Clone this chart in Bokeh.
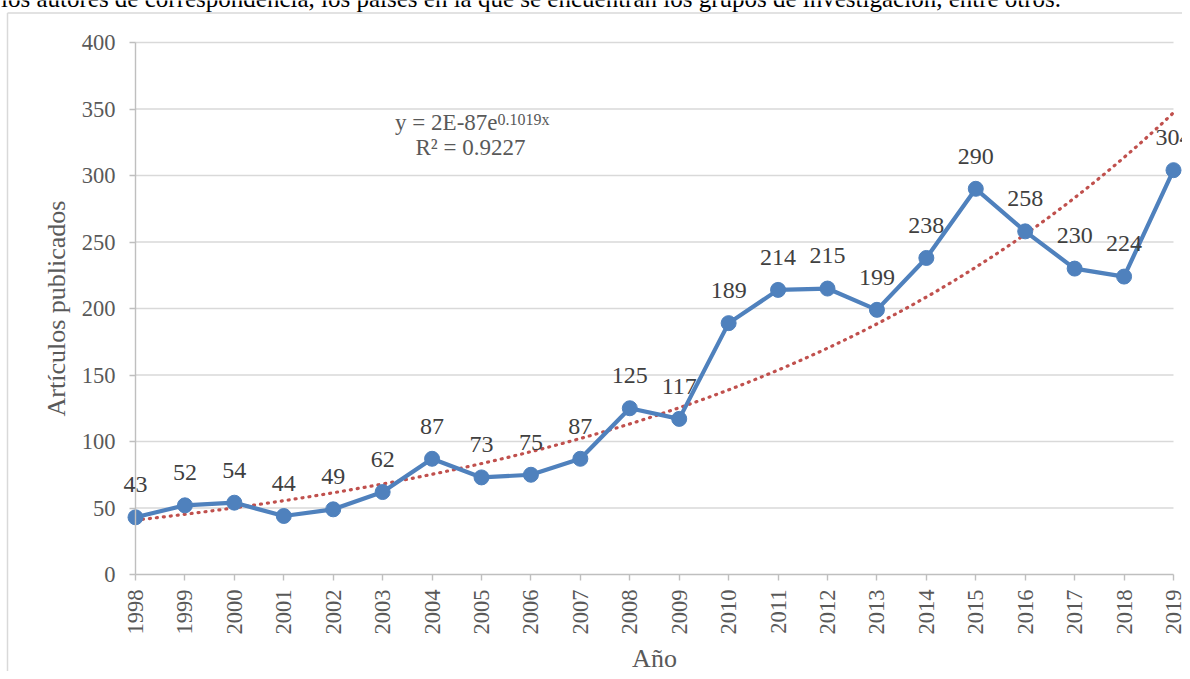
import numpy as np
from bokeh.plotting import figure
from bokeh.models import ColumnDataSource, Label, FixedTicker, Range1d
from bokeh.embed import file_html
from bokeh.resources import INLINE

# ---- data ----
years = [1998, 1999, 2000, 2001, 2002, 2003, 2004, 2005, 2006, 2007, 2008,
         2009, 2010, 2011, 2012, 2013, 2014, 2015, 2016, 2017, 2018, 2019]
articles = [43, 52, 54, 44, 49, 62, 87, 73, 75, 87, 125,
            117, 189, 214, 215, 199, 238, 290, 258, 230, 224, 304]
y_ticks = [0, 50, 100, 150, 200, 250, 300, 350, 400]
eq_main = "y = 2E-87e"
eq_sup = "0.1019x"
eq_r2 = "R\u00b2 = 0.9227"
top_sentence = ("los autores de correspondencia, los pa\u00edses en la que se encuentran "
                "los grupos de investigaci\u00f3n, entre otros.")
x_title = "A\u00f1o"
y_title = "Art\u00edculos publicados"

FONT = "Liberation Serif"
BLUE = "#4f81bd"
RED = "#c0504d"

# ---- layout (pixels of the canvas) ----
W, H = 1182, 671
PX_LEFT, PX_RIGHT = 135.0, 1173.0     # where first / last year sit
PX_TOP, PX_BOTTOM = 42.0, 574.0       # where y=400 / y=0 sit
x0, x1 = years[0], years[-1]
y0, y1 = y_ticks[0], y_ticks[-1]
kx = (PX_RIGHT - PX_LEFT) / (x1 - x0)
ky = (PX_BOTTOM - PX_TOP) / (y1 - y0)
BASE_SHIFT = 0.36  # label baseline correction (em)


def dx(px):
    return x0 + (px - PX_LEFT) / kx


def dy(py):
    return y0 + (PX_BOTTOM - py) / ky


def ldy(py, fs):
    # data y for a label whose alphabetic baseline should sit at pixel py
    return dy(py - BASE_SHIFT * fs)


# exponential trendline fitted from the data (ln y = a + b x)
b_fit, a_fit = np.polyfit(np.array(years, float), np.log(np.array(articles, float)), 1)
trend_x = np.linspace(years[0], years[-1], 400)
trend_y = np.exp(a_fit + b_fit * trend_x)

p = figure(width=W, height=H,
           x_range=Range1d(dx(0), dx(W)), y_range=Range1d(dy(H), dy(0)),
           output_backend="svg", toolbar_location=None,
           min_border=0, min_border_left=0, min_border_right=0,
           min_border_top=0, min_border_bottom=0)
p.outline_line_color = None
p.background_fill_color = "white"
p.border_fill_color = "white"
p.xgrid.visible = False
p.ygrid.visible = False

# axes drawn at the data origin inside the (full canvas) frame
p.yaxis.fixed_location = x0
p.xaxis.fixed_location = y0
p.yaxis.bounds = (y0, y1)
p.xaxis.bounds = (x0, x1)
p.yaxis.ticker = FixedTicker(ticks=y_ticks)
p.xaxis.ticker = FixedTicker(ticks=years)

for ax in (p.xaxis, p.yaxis):
    ax.axis_line_color = "#bfbfbf"
    ax.axis_line_width = 1.4
    ax.major_tick_line_color = "#bfbfbf"
    ax.major_tick_line_width = 1.4
    ax.major_tick_out = 6
    ax.major_tick_in = 0
    ax.minor_tick_line_color = None
    ax.major_label_text_font = FONT
    ax.major_label_text_font_size = "22.5px"
    ax.major_label_text_color = "#595959"
    ax.axis_label_text_font = FONT
    ax.axis_label_text_font_size = "26px"
    ax.axis_label_text_color = "#595959"
    ax.axis_label_text_font_style = "normal"

p.yaxis.major_label_standoff = 14
p.yaxis.axis_label = y_title
p.yaxis.axis_label_standoff = 8
p.xaxis.major_label_orientation = np.pi / 2
p.xaxis.major_label_standoff = 9
p.xaxis.axis_label = x_title
p.xaxis.axis_label_standoff = 6

# horizontal gridlines at the y ticks, spanning the category extent
n_g = len(y_ticks) - 1
p.segment(x0=[x0] * n_g, x1=[x1] * n_g, y0=y_ticks[1:], y1=y_ticks[1:],
          line_color="#d9d9d9", line_width=1.4, level="underlay")

# chart border (top and left edges of the chart box)
p.segment(x0=[dx(7), dx(7)], y0=[dy(12.5), dy(12.5)],
          x1=[dx(W + 20), dx(7)], y1=[dy(12.5), dy(H + 20)],
          line_color="#d9d9d9", line_width=1.5, level="underlay")

# trendline
p.line(trend_x, trend_y, line_color=RED, line_width=3.2, line_dash="1 6",
       line_cap="round")

# series
src = ColumnDataSource(dict(x=years, y=articles))
p.line("x", "y", source=src, line_color=BLUE, line_width=4.2)
p.scatter("x", "y", source=src, size=15, fill_color=BLUE, line_color=BLUE)

# data labels
LBL_FS = 24
for xv, yv in zip(years, articles):
    p.add_layout(Label(x=xv, y=yv, text=str(yv), text_align="center",
                       text_baseline="alphabetic",
                       y_offset=24 + BASE_SHIFT * LBL_FS,
                       text_font=FONT, text_font_size=f"{LBL_FS}px",
                       text_color="#404040"))

# trendline equation
p.add_layout(Label(x=dx(497), y=ldy(130, 23), text=eq_main, text_align="right",
                   text_baseline="alphabetic", text_font=FONT,
                   text_font_size="23px", text_color="#595959"))
p.add_layout(Label(x=dx(497), y=ldy(125, 16), text=eq_sup, text_align="left",
                   text_baseline="alphabetic", text_font=FONT,
                   text_font_size="16px", text_color="#595959"))
p.add_layout(Label(x=dx(470), y=ldy(155, 23), text=eq_r2, text_align="center",
                   text_baseline="alphabetic", text_font=FONT,
                   text_font_size="23px", text_color="#595959"))

# sentence above the chart (cropped at the top in the original)
p.add_layout(Label(x=dx(0.5), y=ldy(7, 25), text=top_sentence, text_align="left",
                   text_baseline="alphabetic", text_font=FONT,
                   text_font_size="25px", text_color="#000000"))

open("out.html", "w").write(file_html(p, INLINE))
